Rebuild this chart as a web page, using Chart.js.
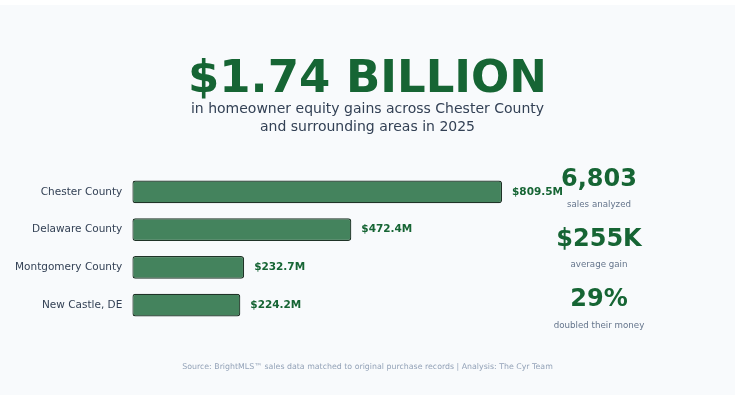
<!DOCTYPE html>
<html>
<head>
<meta charset="utf-8">
<script src="https://cdn.jsdelivr.net/npm/chart.js@4.4.1/dist/chart.umd.min.js"></script>
<style>
    body { margin: 0; background: #ffffff; }
    #wrap {
        position: absolute;
        left: 0; top: 5px;
        width: 735px; height: 390px;
        background: #f8fafc;
    }
</style>
</head>
<body>
<div id="wrap"><canvas id="equityChart"></canvas></div>
<script>
// ===== DATA =====
const regions = ['Chester County', 'Delaware County', 'Montgomery County', 'New Castle, DE'];
const gainsM = [809.5, 472.4, 232.7, 224.2];
const valueLabels = ['$809.5M', '$472.4M', '$232.7M', '$224.2M'];

const headline = '$1.74 BILLION';
const subtitleLines = ['in homeowner equity gains across Chester County', 'and surrounding areas in 2025'];
const statValues = ['6,803', '$255K', '29%'];
const statLabels = ['sales analyzed', 'average gain', 'doubled their money'];
const sourceNote = 'Source: BrightMLS\u2122 sales data matched to original purchase records | Analysis: The Cyr Team';

// rounded box padding around each bar (in $M units)
const boxPad = 8.7;

const GREEN = '#166534';
const FONT = '"DejaVu Sans", sans-serif';

// Headline, stats and source text
const textPlugin = {
    id: 'infographicText',
    afterDraw(chart) {
        const ctx = chart.ctx;
        ctx.save();
        ctx.textAlign = 'center';
        ctx.textBaseline = 'alphabetic';

        ctx.fillStyle = GREEN;
        ctx.font = `bold 45px ${FONT}`;
        ctx.fillText(headline, 367.5, 87);

        ctx.fillStyle = '#334155';
        ctx.font = `14px ${FONT}`;
        subtitleLines.forEach((line, i) => ctx.fillText(line, 367.5, 107.7 + i * 18));

        statValues.forEach((v, i) => {
            ctx.fillStyle = GREEN;
            ctx.font = `bold 24px ${FONT}`;
            ctx.fillText(v, 599, 180.5 + i * 60);
            ctx.fillStyle = '#64748b';
            ctx.font = `8.7px ${FONT}`;
            ctx.fillText(statLabels[i], 599, 202 + i * 60.3);
        });

        ctx.fillStyle = '#94a3b8';
        ctx.font = `7.85px ${FONT}`;
        ctx.fillText(sourceNote, 367.5, 363.5);
        ctx.restore();
    }
};

// Value labels at the end of each bar
const valueLabelPlugin = {
    id: 'valueLabels',
    afterDatasetsDraw(chart) {
        const ctx = chart.ctx;
        const meta = chart.getDatasetMeta(0);
        ctx.save();
        ctx.fillStyle = GREEN;
        ctx.font = `bold 10.5px ${FONT}`;
        ctx.textAlign = 'left';
        ctx.textBaseline = 'middle';
        meta.data.forEach((bar, i) => {
            ctx.fillText(valueLabels[i], bar.x + 10, bar.y);
        });
        ctx.restore();
    }
};

new Chart(document.getElementById('equityChart'), {
    type: 'bar',
    data: {
        labels: regions,
        datasets: [{
            data: gainsM.map(v => [-boxPad, v + boxPad]),
            backgroundColor: 'rgba(22, 101, 52, 0.8)',
            borderColor: '#1f3327',
            borderWidth: 1.2,
            borderRadius: 3,
            borderSkipped: false,
            categoryPercentage: 1,
            barPercentage: 0.6
        }]
    },
    options: {
        indexAxis: 'y',
        responsive: true,
        maintainAspectRatio: false,
        animation: false,
        layout: { padding: { top: 168, bottom: 71, left: 0, right: 174 } },
        plugins: {
            legend: { display: false },
            tooltip: { enabled: false }
        },
        scales: {
            x: {
                display: false,
                min: -boxPad,
                max: 950
            },
            y: {
                afterFit: s => { s.width = 132.3; },
                grid: { display: false, drawTicks: false },
                border: { display: false },
                ticks: {
                    color: '#334155',
                    padding: 10,
                    font: { family: FONT, size: 10.5 }
                }
            }
        }
    },
    plugins: [textPlugin, valueLabelPlugin]
});
</script>
</body>
</html>
